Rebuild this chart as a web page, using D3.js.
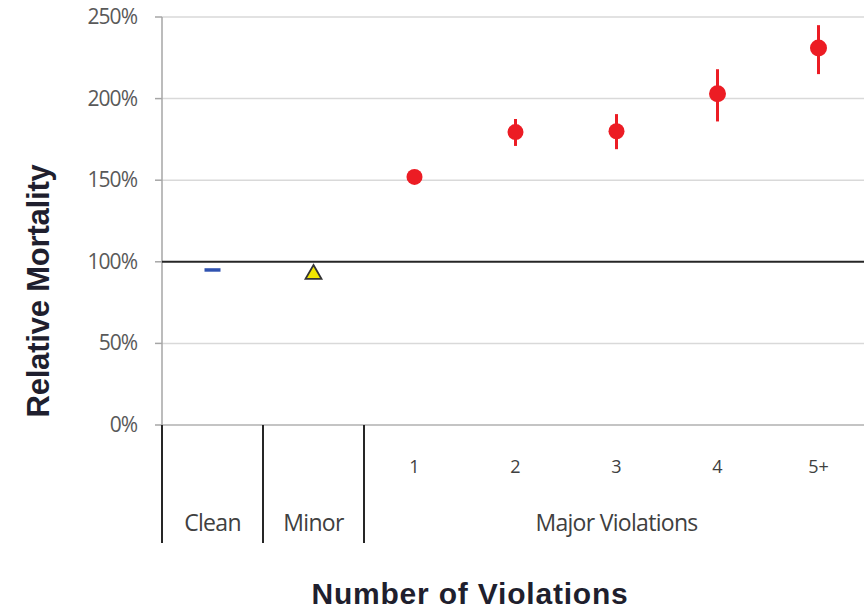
<!DOCTYPE html>
<html>
<head>
<meta charset="utf-8">
<script src="https://cdn.jsdelivr.net/npm/d3@7"></script>
<style>
  body { margin: 0; background: #fff; }
  svg { display: block; }
</style>
</head>
<body>
<div id="chart"></div>
<script>
// categories along the x axis
var categories = ["Clean", "Minor", "1", "2", "3", "4", "5+"];
// relative mortality (1 = 100%) and error-bar bounds
var values = [0.95, 0.93, 1.52, 1.795, 1.80, 2.03, 2.31];
var lower  = [0.95, 0.93, 1.50, 1.71, 1.69, 1.86, 2.15];
var upper  = [0.95, 0.93, 1.54, 1.875, 1.905, 2.18, 2.45];
var yTicks = [0, 0.5, 1, 1.5, 2, 2.5];
// group labels under the axis
var groups = [
  { label: "Clean", from: 0, to: 1 },
  { label: "Minor", from: 1, to: 2 },
  { label: "Major Violations", from: 2, to: 7 }
];

var width = 864, height = 612;
var margin = { top: 17, left: 162, bottom: 187 };
var plotW = 707;

var svg = d3.select("#chart").append("svg")
  .attr("width", width).attr("height", height);

var x = d3.scaleBand().domain(categories).range([margin.left, margin.left + plotW]);
var y = d3.scaleLinear().domain([0, 2.5]).range([425, margin.top]);

// gridlines
svg.append("g").selectAll("line").data(yTicks.filter(function (d) { return d !== 1; }))
  .enter().append("line")
  .attr("x1", margin.left).attr("x2", width)
  .attr("y1", function (d) { return y(d); }).attr("y2", function (d) { return y(d); })
  .attr("stroke", function (d) { return d === 0 ? "#b0b0b0" : "#d9d9d9"; })
  .attr("stroke-width", 1.5);

// y axis line + ticks
svg.append("line")
  .attr("x1", margin.left).attr("x2", margin.left)
  .attr("y1", y(2.5)).attr("y2", y(0))
  .attr("stroke", "#a6a6a6").attr("stroke-width", 1.5);
svg.append("g").selectAll("line").data(yTicks).enter().append("line")
  .attr("x1", margin.left - 7).attr("x2", margin.left)
  .attr("y1", function (d) { return y(d); }).attr("y2", function (d) { return y(d); })
  .attr("stroke", "#a6a6a6").attr("stroke-width", 1.5);

svg.append("g").selectAll("text").data(yTicks).enter().append("text")
  .attr("x", 137).attr("y", function (d) { return y(d) + 7; })
  .attr("text-anchor", "end")
  .attr("font-family", "Open Sans, Liberation Sans, sans-serif")
  .attr("font-size", 21).attr("letter-spacing", -1)
  .attr("fill", "#595959")
  .text(function (d) { return d3.format(".0%")(d); });

// 100% reference line
svg.append("line")
  .attr("x1", margin.left).attr("x2", width)
  .attr("y1", y(1)).attr("y2", y(1))
  .attr("stroke", "#262626").attr("stroke-width", 2);

// group separators
var seps = [0, 1, 2, 7];
svg.append("g").selectAll("line").data(seps).enter().append("line")
  .attr("x1", function (i) { return margin.left + i * x.bandwidth(); })
  .attr("x2", function (i) { return margin.left + i * x.bandwidth(); })
  .attr("y1", y(0)).attr("y2", 543)
  .attr("stroke", "#262626").attr("stroke-width", 2);

// number labels for major violations
svg.append("g").selectAll("text").data(categories.slice(2)).enter().append("text")
  .attr("x", function (d) { return x(d) + x.bandwidth() / 2; })
  .attr("y", 473)
  .attr("text-anchor", "middle")
  .attr("font-family", "Open Sans, Liberation Sans, sans-serif")
  .attr("font-size", 18).attr("fill", "#404040")
  .text(function (d) { return d; });

svg.append("g").selectAll("text").data(groups).enter().append("text")
  .attr("x", function (g) { return margin.left + (g.from + g.to) / 2 * x.bandwidth(); })
  .attr("y", 531)
  .attr("text-anchor", "middle")
  .attr("font-family", "Open Sans, Liberation Sans, sans-serif")
  .attr("font-size", 23).attr("letter-spacing", -0.7).attr("fill", "#404040")
  .text(function (g) { return g.label; });

var cx = function (i) { return x(categories[i]) + x.bandwidth() / 2; };

// Clean: blue dash
svg.append("line")
  .attr("x1", cx(0) - 8).attr("x2", cx(0) + 8)
  .attr("y1", y(values[0])).attr("y2", y(values[0]))
  .attr("stroke", "#2f52b0").attr("stroke-width", 3.5);

// Minor: yellow triangle
svg.append("path")
  .attr("d", d3.symbol().type(d3.symbolTriangle).size(110)())
  .attr("transform", "translate(" + cx(1) + "," + (y(values[1]) + 1) + ")")
  .attr("fill", "#f2e600").attr("stroke", "#333").attr("stroke-width", 1.8);

// Major violations: red points with error bars
var major = d3.range(2, 7);
svg.append("g").selectAll("line").data(major).enter().append("line")
  .attr("x1", cx).attr("x2", cx)
  .attr("y1", function (i) { return y(upper[i]); })
  .attr("y2", function (i) { return y(lower[i]); })
  .attr("stroke", "#ec1c24").attr("stroke-width", 3);
svg.append("g").selectAll("circle").data(major).enter().append("circle")
  .attr("cx", cx).attr("cy", function (i) { return y(values[i]); })
  .attr("r", function (i) { return i >= 5 ? 8.5 : 8; })
  .attr("fill", "#ec1c24");

// axis titles
svg.append("text")
  .attr("transform", "translate(49,291) rotate(-90)")
  .attr("text-anchor", "middle")
  .attr("font-family", "Liberation Sans, Arial, sans-serif")
  .attr("font-weight", "bold").attr("font-size", 31).attr("letter-spacing", -0.2)
  .attr("fill", "#1f1f2e")
  .text("Relative Mortality");

svg.append("text")
  .attr("x", 470).attr("y", 604)
  .attr("text-anchor", "middle")
  .attr("font-family", "Liberation Sans, Arial, sans-serif")
  .attr("font-weight", "bold").attr("font-size", 30).attr("letter-spacing", 0.8)
  .attr("fill", "#1f1f2e")
  .text("Number of Violations");
</script>
</body>
</html>
